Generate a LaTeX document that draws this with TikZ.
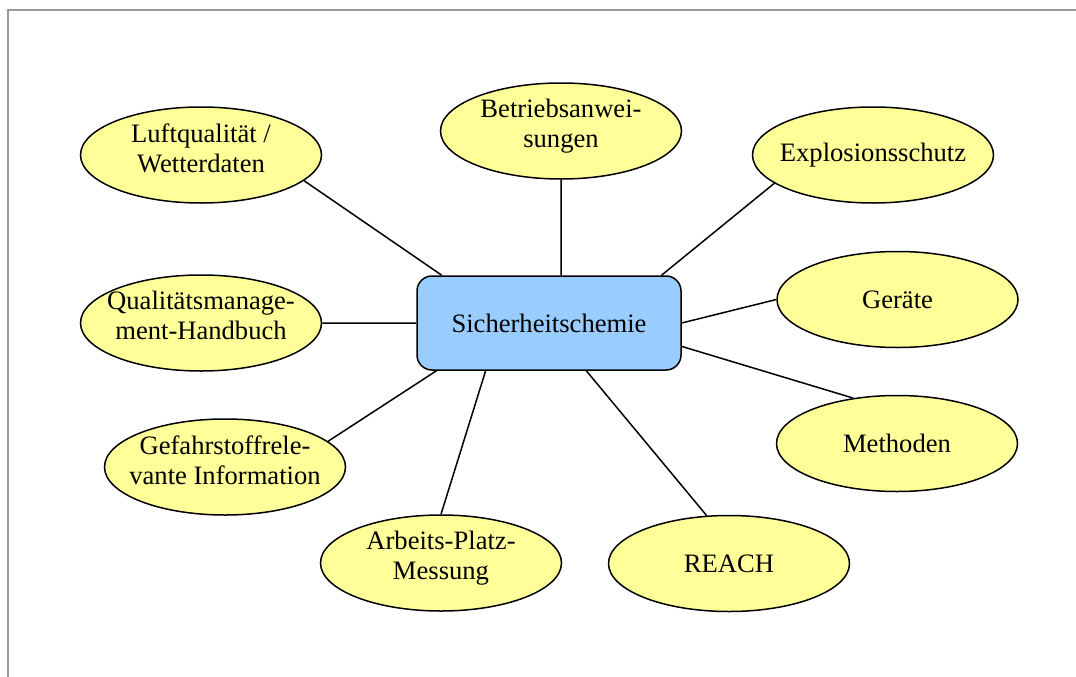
\documentclass[tikz,border=0pt]{standalone}
\usepackage{fontspec}
\setmainfont{Liberation Serif}
\usetikzlibrary{shapes.geometric}
\definecolor{paleyellow}{HTML}{FFFF99}
\definecolor{paleblue}{HTML}{99CCFF}

\begin{document}
\begin{tikzpicture}[x=1pt,y=-1pt]
\tikzstyle{topic}=[ellipse, draw, fill=paleyellow, line width=1.5pt,
                        inner xsep=-20pt, inner ysep=0pt, minimum width=241pt,
                        minimum height=96pt, align=center, font=\fontsize{26.6pt}{30pt}\selectfont]
\tikzstyle{twoline}=[text depth=14.5pt]
\tikzstyle{hub}=[rectangle, rounded corners=15pt, draw, fill=paleblue, line width=1.5pt,
                        minimum width=264pt, minimum height=94pt, font=\fontsize{26.6pt}{30pt}\selectfont]
\useasboundingbox (0,0) rectangle (1076,677);
\draw[black!40, line width=1.5pt] (8,677)--(8,10)--(1076,10);
	\node[hub] (S) at (549,323){Sicherheitschemie};
	\node[topic, twoline] (A) at (201,155){Luftqualität /\\Wetterdaten};
	\node[topic, twoline] (B) at (561,131){Betriebsanwei-\\sungen};
	\node[topic] (C) at (873,155){Explosionsschutz};
	\node[topic] (D) at (897.5,299.5){Geräte};
	\node[topic] (E) at (897,443.5){Methoden};
	\node[topic] (F) at (729,563.5){REACH};
	\node[topic, twoline] (G) at (441,563){Arbeits-Platz-\\Messung};
	\node[topic, twoline] (H) at (225,467){Gefahrstoffrele-\\vante Information};
	\node[topic, twoline] (I) at (201,323){Qualitätsmanage-\\ment-Handbuch};
\draw[line width=1.5pt] (S.156.5)--(A.-14)(B.south)--(S.north -| B.south)(S.23.5)--(C.196)
	(S.east)--(D.west)(S.-10)--(E.134)(S.-52.6)--(F.115.6)(S.217.9)--(G.north)
	(S.203.3)--(H.14.3)(S.west)--(I.east);
\end{tikzpicture}
\end{document}
